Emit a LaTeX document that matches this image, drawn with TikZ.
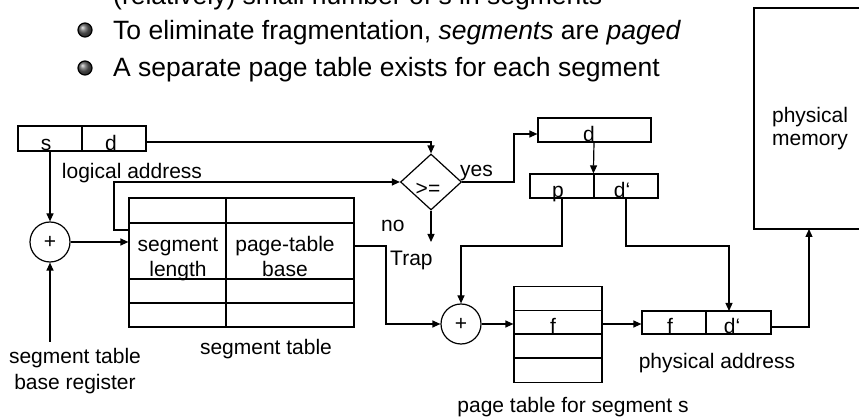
\documentclass[tikz,border=0pt]{standalone}
\usepackage{fontspec}
\setmainfont{Liberation Sans}
\usetikzlibrary{arrows.meta,shapes.geometric}
\begin{document}
\begin{tikzpicture}[x=1pt,y=-1pt,
  ln/.style={line width=1.2pt},
  arr/.style={ln,-{Triangle[length=8pt,width=7pt]}},
  cell/.style={draw,line width=1.2pt,rectangle,inner sep=0pt},
  lbl/.style={font=\fontsize{21}{25}\selectfont,inner sep=0pt,anchor=base},
  bul/.style={font=\fontsize{26.5}{30}\selectfont,inner sep=0pt,anchor=base west},
  ball/.style={circle,inner sep=0pt,minimum size=14pt,draw=black,line width=1.2pt,ball color=gray!75!black},
  adder/.style={draw,circle,line width=1.2pt,minimum size=40pt,inner sep=0pt}]
\useasboundingbox (0,0) rectangle (859,419);
\clip (0,0) rectangle (859,419);
% bullets
\node[bul] (b1) at (113,5) {(relatively) small number of s in segments};
\node[ball] (k2) at (85,30) {};
\node[bul] (b2) at (113,40) {To eliminate fragmentation, \textit{segments} are \textit{paged}};
\node[ball] (k3) at (85,68) {};
\node[bul] (b3) at (113,77) {A separate page table exists for each segment};
% physical memory
\draw[ln] (870,8) -- (754,8) -- (754,229) -- (870,229);
\coordinate (memb) at (809,229);
\node[lbl] (pm1) at (810,123) {physical};
\node[lbl] (pm2) at (810,146) {memory};
% logical address
\node[cell,minimum width=64pt,minimum height=25pt] (las) at (50,138.5) {};
\node[cell,minimum width=64pt,minimum height=25pt] (lad) at (114,138.5) {};
\node[lbl] (ls) at (46,151) {s};
\node[lbl] (ld) at (111,151) {d};
\node[lbl] (lal) at (132,179) {logical address};
% comparator
\node[draw,diamond,line width=1.2pt,minimum width=61pt,minimum height=56pt,inner sep=0pt] (cmp) at (431,182) {};
\node[lbl] (ge) at (428,196) {>=};
\node[lbl,anchor=base west] (yes) at (460,177) {yes};
\node[lbl,anchor=base west] (no) at (381,232) {no};
\node[lbl,anchor=base west] (trap) at (390,266) {Trap};
\coordinate (trapend) at (431,242);
% d box
\node[cell,minimum width=113pt,minimum height=24pt] (dbox) at (594.5,130) {};
\node[lbl] (dd) at (589,142) {d};
% p d' box
\node[cell,minimum width=64pt,minimum height=24pt] (pc) at (562,186) {};
\node[cell,minimum width=64pt,minimum height=24pt] (dpc) at (626,186) {};
\node[lbl] (pp) at (558,198) {p};
\node[lbl] (pdp) at (622,198) {d‘};
% adders
\node[adder] (add1) at (50,242) {\fontsize{21}{25}\selectfont +};
\node[adder] (add2) at (461,324) {\fontsize{21}{25}\selectfont +};
% segment table
\foreach \y/\h/\n in {210.5/25/1,251/56/2,291/24/3,315/24/4}{
  \node[cell,minimum width=97pt,minimum height=\h pt] (sl\n) at (177.5,\y) {};
  \node[cell,minimum width=128pt,minimum height=\h pt] (sb\n) at (290,\y) {};
}
\node[lbl] (sg1) at (178,252) {segment};
\node[lbl] (sg2) at (178,277) {length};
\node[lbl] (pb1) at (285,252) {page-table};
\node[lbl] (pb2) at (285,277) {base};
\node[lbl] (stl) at (266,355) {segment table};
\node[lbl] (stb1) at (75,363) {segment table};
\node[lbl] (stb2) at (75,389) {base register};
\coordinate (stbr) at (50,342);
% page table
\foreach \y/\n in {298.5/1,322.5/2,346/3,370.5/4}{
  \node[cell,minimum width=88pt,minimum height=24pt] (pt\n) at (558,\y) {};
}
\node[lbl] (ptf) at (553,334) {f};
\node[lbl] (ptl) at (573,412) {page table for segment s};
% physical address
\node[cell,minimum width=64pt,minimum height=23pt] (paf) at (674,322.5) {};
\node[cell,minimum width=65pt,minimum height=23pt] (pad) at (738.5,322.5) {};
\node[lbl] (pf) at (670,334) {f};
\node[lbl] (pd) at (732,334) {d‘};
\node[lbl] (pal) at (717,369) {physical address};
% connectors
\draw[arr] (las.south) -- (add1.north);
\draw[arr] (stbr) -- (add1.south);
\draw[arr] (add1.east) -- (sl2.west |- add1.east);
\draw[arr] (sl2.west |- 0,230) -- (114,230) -- (114,182) -- (cmp.west);
\draw[arr] (lad.east |- 0,142) -- (431,142) -- (cmp.north);
\draw[arr] (cmp.south) -- (trapend);
\draw[arr] (cmp.east) -- (514,182) -- (514,134) -- (dbox.west |- 0,134);
\draw[arr] (594,142) -- (dpc.north west);
\draw[arr] (pc.south) -- (562,246) -- (461,246) -- (add2.north);
\draw[arr] (dpc.south) -- (626,246) -- (729,246) -- (729,311);
\draw[arr] (sb2.east |- 0,246) -- (386,246) -- (386,324) -- (add2.west);
\draw[arr] (add2.east) -- (pt2.west |- add2.east);
\draw[arr] (pt2.east |- 0,324) -- (paf.west |- 0,324);
\draw[arr] (pad.east |- 0,327) -- (809,327) -- (memb);
\end{tikzpicture}
\end{document}
